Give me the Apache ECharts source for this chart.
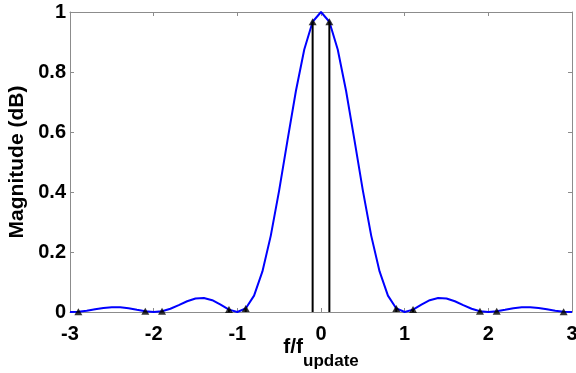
<!DOCTYPE html>
<html>
<head>
<meta charset="utf-8">
<script src="https://cdn.jsdelivr.net/npm/echarts@6/dist/echarts.min.js"></script>
<style>
	html, body { margin: 0; padding: 0; background: #fff; }
	#chart { width: 576px; height: 373px; }
</style>
</head>
<body>
<div id="chart"></div>
<script>
// frequency grid (f / f_update), 0.1 steps
const freqs = [
	-3.0, -2.9, -2.8, -2.7, -2.6, -2.5, -2.4, -2.3, -2.2, -2.1,
	-2.0, -1.9, -1.8, -1.7, -1.6, -1.5, -1.4, -1.3, -1.2, -1.1,
	-1.0, -0.9, -0.8, -0.7, -0.6, -0.5, -0.4, -0.3, -0.2, -0.1,
	0.0, 0.1, 0.2, 0.3, 0.4, 0.5, 0.6, 0.7, 0.8, 0.9,
	1.0, 1.1, 1.2, 1.3, 1.4, 1.5, 1.6, 1.7, 1.8, 1.9,
	2.0, 2.1, 2.2, 2.3, 2.4, 2.5, 2.6, 2.7, 2.8, 2.9, 3.0,
];
// magnitude response
const magnitude = [
	0.0, 0.0012, 0.0045, 0.0091, 0.0136, 0.0162, 0.0159, 0.0125, 0.0072, 0.0022,
	0.0, 0.0027, 0.0108, 0.0229, 0.0358, 0.0450, 0.0468, 0.0392, 0.0243, 0.0080,
	0.0, 0.0119, 0.0547, 0.1353, 0.2546, 0.4053, 0.5728, 0.7368, 0.8751, 0.9675,
	1.0, 0.9675, 0.8751, 0.7368, 0.5728, 0.4053, 0.2546, 0.1353, 0.0547, 0.0119,
	0.0, 0.0080, 0.0243, 0.0392, 0.0468, 0.0450, 0.0358, 0.0229, 0.0108, 0.0027,
	0.0, 0.0022, 0.0072, 0.0125, 0.0159, 0.0162, 0.0136, 0.0091, 0.0045, 0.0012, 0.0,
];
// sampled components (arrows)
const stemFreqs = [-2.9, -2.1, -1.9, -1.1, -0.9, -0.1, 0.1, 0.9, 1.1, 1.9, 2.1, 2.9];
const stemValues = [0.0012, 0.0022, 0.0027, 0.008, 0.0119, 0.9675, 0.9675, 0.0119, 0.008, 0.0027, 0.0022, 0.0012];

const FONT = "Liberation Sans, Arial, Helvetica, sans-serif";
const AXIS_GRAY = "#8c8c8c";

const curveData = freqs.map((f, i) => [f, magnitude[i]]);
const stemData = stemFreqs.map((f, i) => [f, stemValues[i]]);

const chart = echarts.init(document.getElementById("chart"), null, { renderer: "canvas" });

const baseAxis = {
	axisLine: { show: true, onZero: false, lineStyle: { color: AXIS_GRAY, width: 1 } },
	axisTick: { show: true, inside: true, length: 4, lineStyle: { color: AXIS_GRAY } },
	splitLine: { show: false },
};

chart.setOption({
	animation: false,
	grid: { left: 70, right: 4, top: 12, bottom: 61, containLabel: false, outerBoundsMode: "none" },
	xAxis: [
		{
			...baseAxis,
			type: "value",
			min: -3,
			max: 3,
			interval: 1,
			axisLabel: {
				color: "#000",
				fontFamily: FONT,
				fontWeight: "bold",
				fontSize: 20,
				margin: 12,
			},
			name: "{f|f/f}{sub|update}",
			nameLocation: "middle",
			nameGap: 25,
			nameMoveOverlap: false,
			nameTextStyle: {
				verticalAlign: "top",
				rich: {
					f: { fontFamily: FONT, fontWeight: "bold", fontSize: 21, color: "#000", lineHeight: 22, verticalAlign: "top" },
					sub: { fontFamily: FONT, fontWeight: "bold", fontSize: 17, color: "#000", lineHeight: 22, padding: [16, 0, 0, 0], verticalAlign: "top" },
				},
			},
		},
		{
			...baseAxis,
			type: "value",
			position: "top",
			min: -3,
			max: 3,
			interval: 1,
			axisLabel: { show: false },
		},
	],
	yAxis: [
		{
			...baseAxis,
			type: "value",
			min: 0,
			max: 1,
			interval: 0.2,
			axisLabel: {
				color: "#000",
				fontFamily: FONT,
				fontWeight: "bold",
				fontSize: 20,
				margin: 4,
				formatter: (v) => String(Math.round(v * 10) / 10),
			},
			name: "Magnitude (dB)",
			nameLocation: "middle",
			nameGap: 36,
			nameTextStyle: { color: "#000", fontFamily: FONT, fontWeight: "bold", fontSize: 21 },
		},
		{
			...baseAxis,
			type: "value",
			position: "right",
			min: 0,
			max: 1,
			interval: 0.2,
			axisLabel: { show: false },
		},
	],
	series: [
		{
			type: "line",
			data: curveData,
			showSymbol: false,
			smooth: false,
			lineStyle: { color: "#0000ff", width: 2 },
			z: 2,
		},
		{
			type: "custom",
			data: stemData,
			renderItem: (params, api) => {
				const base = api.coord([api.value(0), 0]);
				const top = api.coord([api.value(0), api.value(1)]);
				return {
					type: "line",
					shape: { x1: base[0], y1: base[1], x2: top[0], y2: top[1] },
					style: { stroke: "#000", lineWidth: 2 },
				};
			},
			z: 3,
		},
		{
			type: "scatter",
			data: stemData,
			symbol: "triangle",
			symbolSize: [8, 7],
			itemStyle: { color: "#000" },
			z: 4,
		},
	],
});
</script>
</body>
</html>
